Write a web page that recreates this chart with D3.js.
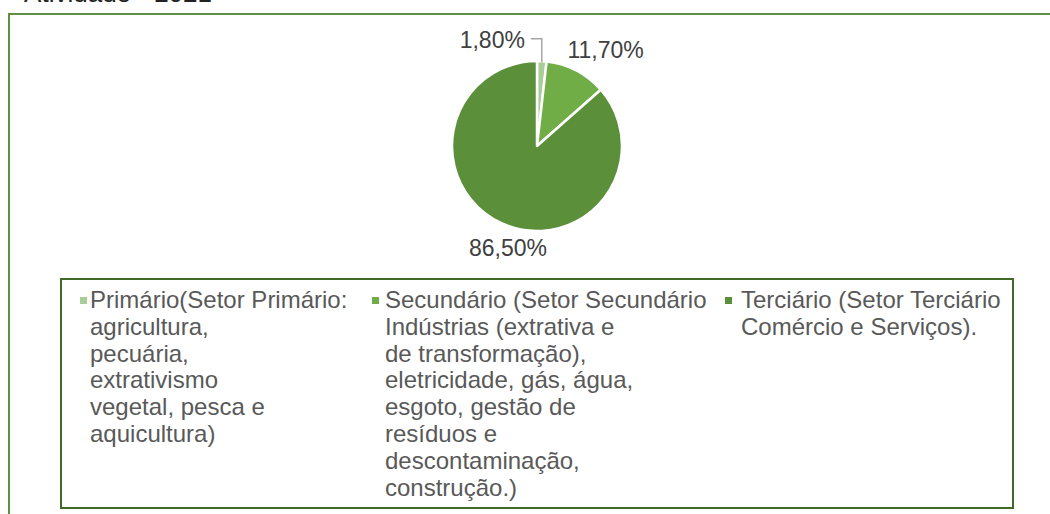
<!DOCTYPE html>
<html lang="pt">
<head>
<meta charset="utf-8">
<title>PIB por setor de atividade - 2021</title>
<script src="https://d3js.org/d3.v7.min.js"></script>
<style>
  html, body { margin: 0; padding: 0; background: #fff; }
  svg { display: block; font-family: "Liberation Sans", Arial, sans-serif; }
  .label { fill: #404040; font-size: 23px; }
  .legend-text { fill: #595959; font-size: 24px; }
</style>
</head>
<body>
<div id="chart"></div>
<script>
// Data
const categories = ["Primário", "Secundário", "Terciário"];
const values = [1.8, 11.7, 86.5];
const valueLabels = ["1,80%", "11,70%", "86,50%"];
const legendLines = [
  ["Primário(Setor Primário:", "agricultura,", "pecuária,", "extrativismo", "vegetal, pesca e", "aquicultura)"],
  ["Secundário (Setor Secundário", "Indústrias (extrativa e", "de transformação),", "eletricidade, gás, água,", "esgoto, gestão de", "resíduos e", "descontaminação,", "construção.)"],
  ["Terciário (Setor Terciário", "Comércio e Serviços)."]
];
const colors = ["#a9cd98", "#70ad47", "#5b8f3a"];

const width = 1050, height = 514;

const svg = d3.select("#chart").append("svg")
  .attr("width", width)
  .attr("height", height);

// title above the frame, mostly outside the picture
svg.append("text")
  .attr("x", 212).attr("y", 2)
  .attr("text-anchor", "end")
  .style("font-size", "26px")
  .style("fill", "#222")
  .text("Atividade - 2021");

// outer chart frame (runs past the right and bottom edge)
svg.append("rect")
  .attr("x", 9).attr("y", 14)
  .attr("width", 1100).attr("height", 600)
  .attr("fill", "none")
  .attr("stroke", "#5f8f42")
  .attr("stroke-width", 2);

// Pie
const cx = 537, cy = 146, radius = 85;
const pie = d3.pie().sort(null).value(d => d)(values);
const arc = d3.arc().innerRadius(0).outerRadius(radius);

const g = svg.append("g").attr("transform", `translate(${cx},${cy})`);

g.selectAll("path.slice")
  .data(pie)
  .enter()
  .append("path")
  .attr("class", "slice")
  .attr("d", arc)
  .attr("fill", (d, i) => colors[i])
  .attr("stroke", "#fff")
  .attr("stroke-width", 2.5)
  .attr("stroke-linejoin", "round");

// label placement: radius from centre, angle shift and anchor per slice
const labelCfg = [
  { r: 107, shift: -0.17, anchor: "end" },
  { r: 118, shift: 0.14, anchor: "middle" },
  { r: 106, shift: -0.147, anchor: "middle" }
];

const labelPos = (d, i) => {
  const a = (d.startAngle + d.endAngle) / 2 + labelCfg[i].shift;
  return [Math.sin(a) * labelCfg[i].r, -Math.cos(a) * labelCfg[i].r];
};

g.selectAll("text.label")
  .data(pie)
  .enter()
  .append("text")
  .attr("class", "label")
  .attr("x", (d, i) => labelPos(d, i)[0])
  .attr("y", (d, i) => labelPos(d, i)[1])
  .attr("dy", "0.35em")
  .attr("text-anchor", (d, i) => labelCfg[i].anchor)
  .text((d, i) => valueLabels[i]);

// leader line for the small slice
const small = pie[0];
const smallA = (small.startAngle + small.endAngle) / 2;
const sx = Math.sin(smallA) * radius, sy = -Math.cos(smallA) * radius;
const lp = labelPos(small, 0);
g.append("polyline")
  .attr("points", [[lp[0] + 6, lp[1] - 1], [sx, lp[1] - 1], [sx, sy + 1]].map(p => p.join(",")).join(" "))
  .attr("fill", "none")
  .attr("stroke", "#a6a6a6")
  .attr("stroke-width", 1.5);

// Legend
const legendBox = { x: 61, y: 279, w: 952, h: 229 };
svg.append("rect")
  .attr("x", legendBox.x).attr("y", legendBox.y)
  .attr("width", legendBox.w).attr("height", legendBox.h)
  .attr("fill", "#fff")
  .attr("stroke", "#3f6a28")
  .attr("stroke-width", 2);

const colX = [80, 372, 725];
const textOff = [10, 13, 16];
const lineH = 26.8;
const firstBase = 308;

const items = svg.selectAll("g.legend-item")
  .data(categories)
  .enter()
  .append("g")
  .attr("class", "legend-item")
  .attr("transform", (d, i) => `translate(${colX[i]},0)`);

items.append("rect")
  .attr("x", 0).attr("y", firstBase - 11)
  .attr("width", 7).attr("height", 7)
  .attr("fill", (d, i) => colors[i]);

items.each(function (d, i) {
  const t = d3.select(this).append("text")
    .attr("class", "legend-text")
    .attr("x", textOff[i])
    .attr("y", firstBase);
  t.selectAll("tspan")
    .data(legendLines[i])
    .enter()
    .append("tspan")
    .attr("x", textOff[i])
    .attr("dy", (l, j) => j === 0 ? 0 : lineH)
    .text(l => l);
});
</script>
</body>
</html>
